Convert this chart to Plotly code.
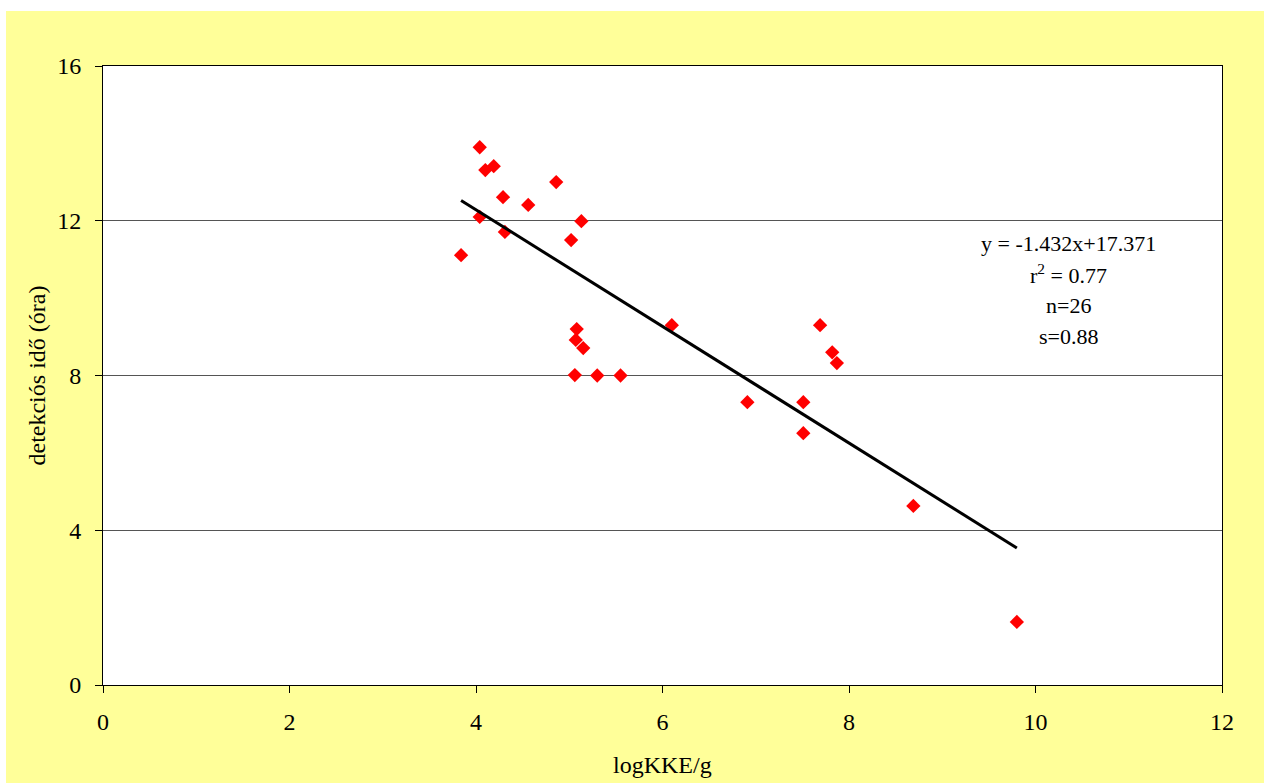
import numpy as np
import plotly.graph_objects as go

log_kke = [4.04, 4.10, 4.19, 4.29, 4.56, 4.86, 4.04, 4.31, 3.84, 5.02, 5.13,
           5.08, 5.07, 5.15, 5.06, 5.30, 5.55, 6.10, 7.69, 7.82, 7.87, 6.91,
           7.51, 7.51, 8.69, 9.80]
det_ido = [13.90, 13.31, 13.41, 12.61, 12.41, 13.00, 12.10, 11.71, 11.11, 11.50, 11.99,
           9.20, 8.92, 8.71, 8.01, 8.00, 8.00, 9.30, 9.30, 8.60, 8.32, 7.31,
           7.31, 6.51, 4.63, 1.63]

x_ticks = [0, 2, 4, 6, 8, 10, 12]
y_ticks = [0, 4, 8, 12, 16]

eq_lines = ["y = -1.432x+17.371", "r<sup>2</sup> = 0.77", "n=26", "s=0.88"]
eq_x = 10.35
eq_y = [11.42, 10.62, 9.82, 9.02]

slope, intercept = np.polyfit(log_kke, det_ido, 1)
tx = np.array([min(log_kke), max(log_kke)])
ty = slope * tx + intercept

FONT = "Liberation Serif, Times New Roman, serif"

fig = go.Figure()
fig.add_trace(go.Scatter(x=log_kke, y=det_ido, mode="markers",
                         marker=dict(symbol="diamond", size=11, color="#FF0000",
                                     line=dict(width=0)),
                         showlegend=False))
fig.add_trace(go.Scatter(x=tx, y=ty, mode="lines",
                         line=dict(color="black", width=3), showlegend=False))

annotations = [
    dict(text=t, x=eq_x, y=yy, xref="x", yref="y", xanchor="center", yanchor="middle",
         showarrow=False, font=dict(size=22, family=FONT))
    for t, yy in zip(eq_lines, eq_y)
]
annotations += [
    dict(text="logKKE/g", x=0.5, y=-80 / 619, xref="paper", yref="paper",
         xanchor="center", yanchor="middle", showarrow=False,
         font=dict(size=24, family=FONT)),
    dict(text="detekciós idő (óra)", x=-67 / 1119, y=0.5, xref="paper", yref="paper",
         xanchor="center", yanchor="middle", showarrow=False, textangle=-90,
         font=dict(size=24, family=FONT)),
]

W, H = 1264, 783
fig.update_layout(
    width=W, height=H,
    margin=dict(l=103, r=42, t=66, b=98),
    paper_bgcolor="#FFFF99",
    plot_bgcolor="white",
    font=dict(family=FONT, size=24, color="black"),
    showlegend=False,
    xaxis=dict(range=[0, 12], tickvals=x_ticks, showgrid=False, zeroline=False,
               showline=True, linecolor="black", linewidth=1, mirror=True,
               ticks="outside", ticklen=7, tickcolor="black", ticklabelstandoff=8,
               tickfont=dict(size=24, family=FONT)),
    yaxis=dict(range=[0, 16], tickvals=y_ticks, showgrid=True, gridcolor="#555555",
               gridwidth=1, zeroline=False,
               showline=True, linecolor="black", linewidth=1, mirror=True,
               ticks="outside", ticklen=7, tickcolor="black", ticklabelstandoff=9,
               tickfont=dict(size=24, family=FONT)),
    shapes=[
        dict(type="rect", xref="paper", yref="paper", layer="above",
             x0=-103 / 1119, x1=(-103 + 6) / 1119, y0=-98 / 619, y1=(619 + 66) / 619,
             fillcolor="white", line=dict(width=0)),
        dict(type="rect", xref="paper", yref="paper", layer="above",
             x0=-103 / 1119, x1=(1119 + 42) / 1119, y0=(619 + 66 - 11) / 619, y1=(619 + 66) / 619,
             fillcolor="white", line=dict(width=0)),
    ],
    annotations=annotations,
)

fig.write_html("out.html")
